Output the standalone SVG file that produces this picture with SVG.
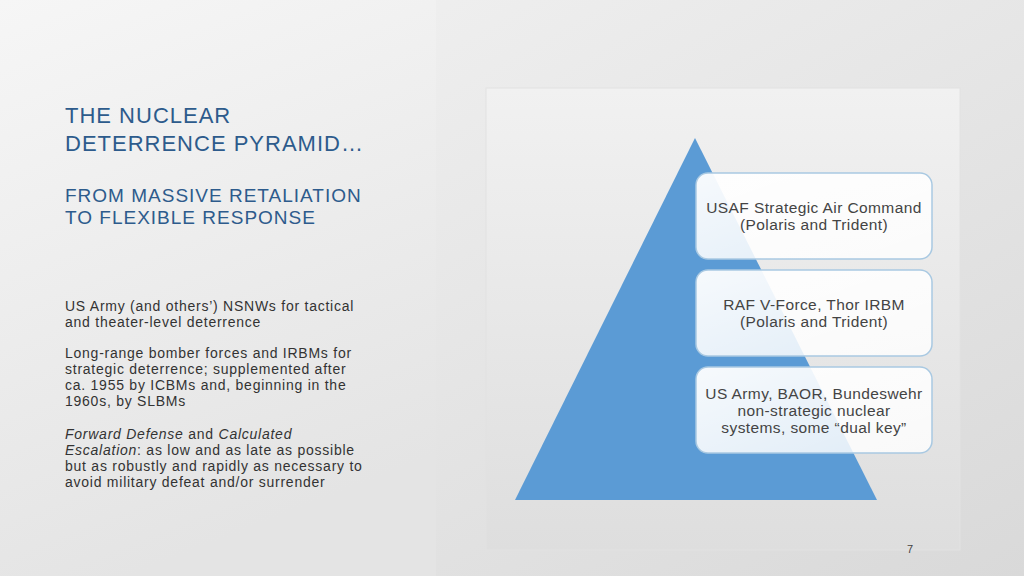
<svg xmlns="http://www.w3.org/2000/svg" width="1024" height="576" viewBox="0 0 1024 576">
<defs>
<linearGradient id="bg" x1="0" y1="0" x2="1" y2="1"><stop offset="0" stop-color="#f4f4f4"/><stop offset="1" stop-color="#d9d9d9"/></linearGradient>
<linearGradient id="lp" x1="0" y1="0" x2="0.3" y2="1"><stop offset="0" stop-color="#f6f6f6"/><stop offset="1" stop-color="#e4e4e4"/></linearGradient>
<linearGradient id="pic" x1="0" y1="0" x2="0" y2="1"><stop offset="0" stop-color="#f1f1f1"/><stop offset="1" stop-color="#dedede"/></linearGradient>
<linearGradient id="box" x1="0" y1="0" x2="1" y2="1"><stop offset="0" stop-color="#ffffff" stop-opacity="0.95"/><stop offset="1" stop-color="#ffffff" stop-opacity="0.8"/></linearGradient>
<style>
.t{font-family:"Liberation Sans",Arial,sans-serif;fill:#2d5b8c;letter-spacing:1px}
.b{font-family:"Liberation Sans",Arial,sans-serif;font-size:14px;fill:#333;letter-spacing:0.75px}
.n rect{fill:url(#box);stroke:#a9c9e2;stroke-width:1.5}
.n text{font-family:"Liberation Sans",Arial,sans-serif;font-size:15.5px;fill:#444;text-anchor:middle;letter-spacing:0.4px}
</style>
</defs>
<rect width="1024" height="576" fill="url(#bg)"/>
<rect width="436" height="576" fill="url(#lp)"/>
<rect x="486" y="88" width="474" height="462" fill="url(#pic)" stroke="#e2e2e2"/>
<text class="t" font-size="22"><tspan x="65" y="123">THE NUCLEAR</tspan><tspan x="65" y="151">DETERRENCE PYRAMID…</tspan></text>
<text class="t" font-size="19"><tspan x="65" y="202">FROM MASSIVE RETALIATION</tspan><tspan x="65" y="224">TO FLEXIBLE RESPONSE</tspan></text>
<text class="b"><tspan x="65" y="311">US Army (and others’) NSNWs for tactical</tspan><tspan x="65" y="327">and theater-level deterrence</tspan>
<tspan x="65" y="358">Long-range bomber forces and IRBMs for</tspan><tspan x="65" y="374">strategic deterrence; supplemented after</tspan><tspan x="65" y="390">ca. 1955 by ICBMs and, beginning in the</tspan><tspan x="65" y="406">1960s, by SLBMs</tspan>
<tspan x="65" y="439" font-style="italic">Forward Defense</tspan><tspan> and </tspan><tspan font-style="italic">Calculated</tspan><tspan x="65" y="455" font-style="italic">Escalation</tspan><tspan>: as low and as late as possible</tspan><tspan x="65" y="471">but as robustly and rapidly as necessary to</tspan><tspan x="65" y="487">avoid military defeat and/or surrender</tspan></text>
<g id="pyramid"><polygon points="695,138 877,500 515,500" fill="#5b9bd5"/></g>
<g id="n1" class="n"><rect x="696" y="173" width="236" height="86" rx="12"/><text x="814" y="213">USAF Strategic Air Command</text><text x="814" y="230">(Polaris and Trident)</text></g>
<g id="n2" class="n"><rect x="696" y="270" width="236" height="86" rx="12"/><text x="814" y="310">RAF V-Force, Thor IRBM</text><text x="814" y="327">(Polaris and Trident)</text></g>
<g id="n3" class="n"><rect x="696" y="367" width="236" height="86" rx="12"/><text x="814" y="399">US Army, BAOR, Bundeswehr</text><text x="814" y="416">non-strategic nuclear</text><text x="814" y="433">systems, some “dual key”</text></g>
<g id="connectors"/>
<text x="910" y="553" font-family="Liberation Sans,Arial,sans-serif" font-size="11" fill="#444" text-anchor="middle">7</text>
</svg>
